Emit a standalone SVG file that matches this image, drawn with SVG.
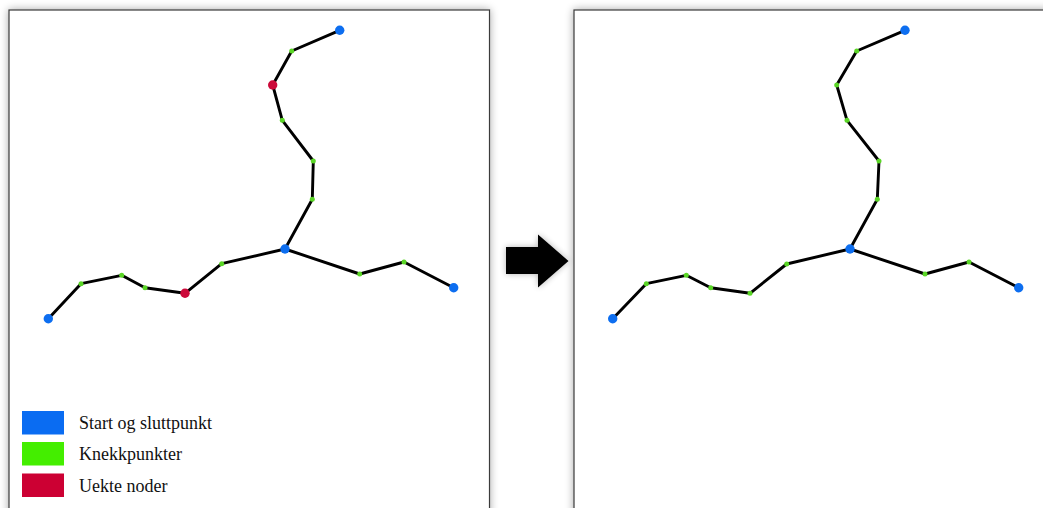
<svg xmlns="http://www.w3.org/2000/svg" width="1043" height="508" viewBox="0 0 1043 508">
<defs>
<filter id="sh" x="-10%" y="-10%" width="120%" height="120%">
<feGaussianBlur in="SourceAlpha" stdDeviation="4"/>
<feComponentTransfer><feFuncA type="linear" slope="0.35"/></feComponentTransfer>
<feMerge><feMergeNode/><feMergeNode in="SourceGraphic"/></feMerge>
</filter>
<filter id="ash" x="-30%" y="-30%" width="160%" height="160%">
<feGaussianBlur in="SourceAlpha" stdDeviation="3"/>
<feComponentTransfer><feFuncA type="linear" slope="0.3"/></feComponentTransfer>
<feMerge><feMergeNode/><feMergeNode in="SourceGraphic"/></feMerge>
</filter>
</defs>
<style>
.panel{fill:#fff;stroke:#3a3a3a;stroke-width:1.2}
.edge{stroke:#000;stroke-width:2.9;fill:none;stroke-linecap:round;stroke-linejoin:round}
.b{fill:#0d6ef0}
.g{fill:#5ad626}
.r{fill:#cc0a3a}
.lbl{font-family:"Liberation Serif","Times New Roman",serif;font-size:18px;fill:#111}
</style>
<rect width="1043" height="508" fill="#fff"/>
<g id="panel-left"><rect class="panel" x="9" y="10" width="480.5" height="520" filter="url(#sh)"/></g>
<g id="panel-right"><rect class="panel" x="574" y="10" width="490" height="520" filter="url(#sh)"/></g>
<g id="arrow"><polygon points="506,247 538,247 538,234.5 568.5,261 538,287.5 538,274 506,274" fill="#000" filter="url(#ash)"/></g>
<g id="connectors">
<polyline class="edge" points="339.7,30.3 291.7,51 272.7,85 282.3,120.3 313.3,161 312.3,199.3 285,249"/>
<polyline class="edge" points="48.3,318.7 81,283.7 121.7,275.3 145,287.7 185,293.3 221.7,263.7 285,249"/>
<polyline class="edge" points="285,249 359.7,274 404,262 453.7,287.7"/>
<polyline class="edge" points="905,30.3 856.7,51 836.7,85 847,120.3 879,161 877.3,199.3 850,249"/>
<polyline class="edge" points="612.7,318.7 646.3,283.7 686.3,275.3 710.7,287.7 750,293.3 786.7,264 850,249"/>
<polyline class="edge" points="850,249 925,274 969,262 1018.7,287.7"/>
</g>
<g id="nodes-left">
<g id="L1"><circle class="b" cx="339.7" cy="30.3" r="4.7"/></g>
<g id="L2"><circle class="g" cx="291.7" cy="51" r="2.5"/></g>
<g id="L3"><circle class="r" cx="272.7" cy="85" r="4.7"/></g>
<g id="L4"><circle class="g" cx="282.3" cy="120.3" r="2.5"/></g>
<g id="L5"><circle class="g" cx="313.3" cy="161" r="2.5"/></g>
<g id="L6"><circle class="g" cx="312.3" cy="199.3" r="2.5"/></g>
<g id="L7"><circle class="b" cx="285" cy="249" r="4.7"/></g>
<g id="L8"><circle class="g" cx="221.7" cy="263.7" r="2.5"/></g>
<g id="L9"><circle class="r" cx="185" cy="293.3" r="4.7"/></g>
<g id="L10"><circle class="g" cx="145" cy="287.7" r="2.5"/></g>
<g id="L11"><circle class="g" cx="121.7" cy="275.3" r="2.5"/></g>
<g id="L12"><circle class="g" cx="81" cy="283.7" r="2.5"/></g>
<g id="L13"><circle class="b" cx="48.3" cy="318.7" r="4.7"/></g>
<g id="L14"><circle class="g" cx="359.7" cy="274" r="2.5"/></g>
<g id="L15"><circle class="g" cx="404" cy="262" r="2.5"/></g>
<g id="L16"><circle class="b" cx="453.7" cy="287.7" r="4.7"/></g>
</g>
<g id="nodes-right">
<g id="R1"><circle class="b" cx="905" cy="30.3" r="4.7"/></g>
<g id="R2"><circle class="g" cx="856.7" cy="51" r="2.5"/></g>
<g id="R3"><circle class="g" cx="836.7" cy="85" r="2.5"/></g>
<g id="R4"><circle class="g" cx="847" cy="120.3" r="2.5"/></g>
<g id="R5"><circle class="g" cx="879" cy="161" r="2.5"/></g>
<g id="R6"><circle class="g" cx="877.3" cy="199.3" r="2.5"/></g>
<g id="R7"><circle class="b" cx="850" cy="249" r="4.7"/></g>
<g id="R8"><circle class="g" cx="786.7" cy="264" r="2.5"/></g>
<g id="R9"><circle class="g" cx="750" cy="293.3" r="2.5"/></g>
<g id="R10"><circle class="g" cx="710.7" cy="287.7" r="2.5"/></g>
<g id="R11"><circle class="g" cx="686.3" cy="275.3" r="2.5"/></g>
<g id="R12"><circle class="g" cx="646.3" cy="283.7" r="2.5"/></g>
<g id="R13"><circle class="b" cx="612.7" cy="318.7" r="4.7"/></g>
<g id="R14"><circle class="g" cx="925" cy="274" r="2.5"/></g>
<g id="R15"><circle class="g" cx="969" cy="262" r="2.5"/></g>
<g id="R16"><circle class="b" cx="1018.7" cy="287.7" r="4.7"/></g>
</g>
<g id="legend">
<g id="leg-start"><rect x="22" y="411" width="42" height="23.5" fill="#0a6cf2"/><text class="lbl" x="79" y="429">Start og sluttpunkt</text></g>
<g id="leg-knekk"><rect x="22" y="442" width="42" height="23.5" fill="#44ee00"/><text class="lbl" x="79" y="459.5">Knekkpunkter</text></g>
<g id="leg-uekte"><rect x="22" y="473.5" width="42" height="23.5" fill="#cc0033"/><text class="lbl" x="79" y="492">Uekte noder</text></g>
</g>
</svg>
